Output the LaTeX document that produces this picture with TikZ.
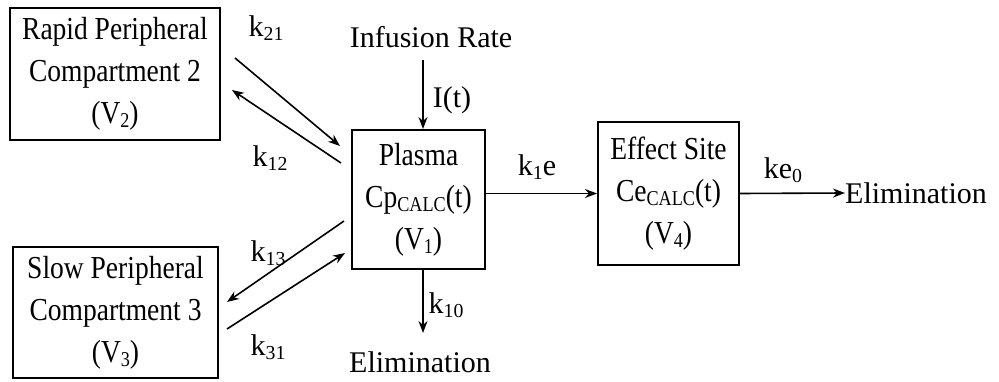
\documentclass[tikz,border=0pt]{standalone}
\usepackage{fontspec}
\setmainfont{Liberation Serif}
\newfontfamily\boxfont[FakeStretch=0.86]{Liberation Serif}
\usetikzlibrary{arrows.meta}
\newcommand\lowsub[1]{\raisebox{-0.12em}{\scalebox{0.66}{#1}}}
\tikzset{
	boxA/.style={
		draw, line width=2pt, align=center, inner sep=0pt,
		font={\boxfont\fontsize{32}{42}\selectfont}
	},
	txtA/.style={inner sep=0pt, font={\fontsize{30}{34}\selectfont}},
	arrA/.style={->, line width=1.6pt},
	>={Stealth[length=12pt,width=9pt]},
}

\begin{document}
\begin{tikzpicture}[x=1pt, y=-1pt]
\useasboundingbox (0,0) rectangle (999,382);
% compartments
\node[boxA, minimum width=210pt, minimum height=132pt] (rapid) at (115,74)
	{Rapid Peripheral\\Compartment 2\\(V\lowsub{2})};
\node[boxA, minimum width=205pt, minimum height=131pt] (slow) at (115.5,312.5)
	{Slow Peripheral\\Compartment 3\\(V\lowsub{3})};
\node[boxA, minimum width=133pt, minimum height=139pt] (plasma) at (418.5,199.5)
	{Plasma\\Cp\lowsub{CALC}(t)\\(V\lowsub{1})};
\node[boxA, minimum width=141pt, minimum height=143pt] (effect) at (668.5,193.5)
	{Effect Site\\Ce\lowsub{CALC}(t)\\(V\lowsub{4})};
% texts
\node[txtA] (inf) at (431,37) {Infusion Rate};
\node[txtA] (elimA) at (420,362) {Elimination};
\node[txtA, anchor=west] (elimB) at (845,193) {Elimination};
\node[txtA] (lIt) at (452,100) {I(t)};
\node[txtA] (lk10) at (446,305) {k\lowsub{10}};
\node[txtA] (lk1e) at (537,167) {k\lowsub{1}e};
\node[txtA] (lke0) at (783,170) {ke\lowsub{0}};
\node[txtA] (lk21) at (266,28) {k\lowsub{21}};
\node[txtA] (lk12) at (270,158) {k\lowsub{12}};
\node[txtA] (lk13) at (268,253) {k\lowsub{13}};
\node[txtA] (lk31) at (268,347) {k\lowsub{31}};
% arrow ends
\coordinate (ia) at (423,60);
\coordinate (eb) at (423,333);
\coordinate (r1) at (235,58);  \coordinate (p1) at (340,146);
\coordinate (p2) at (341,163); \coordinate (r2) at (232,90);
\coordinate (p3) at (344,221); \coordinate (s3) at (227,302);
\coordinate (s4) at (227,329); \coordinate (p4) at (345,253);
% arrows
\draw[arrA] (ia) -- (ia |- plasma.north);
\draw[arrA] (eb |- plasma.south) -- (eb);
\draw[arrA] (plasma.east |- effect.west) -- (effect.west);
\draw[arrA] (effect.east) -- (elimB.west);
\draw[arrA] (r1) -- (p1);
\draw[arrA] (p2) -- (r2);
\draw[arrA] (p3) -- (s3);
\draw[arrA] (s4) -- (p4);
\end{tikzpicture}
\end{document}
